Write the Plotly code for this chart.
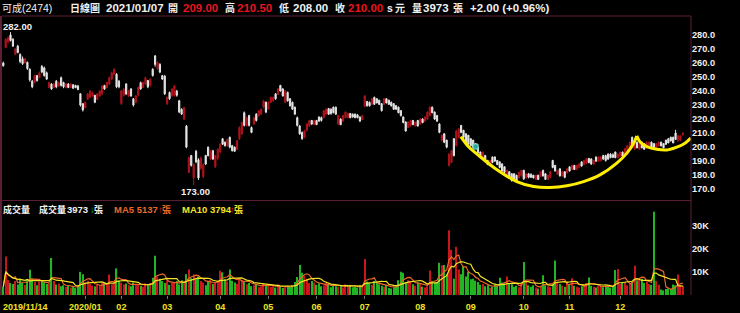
import plotly.graph_objects as go
import pandas as pd

opens = [
    260, 271, 275, 280, 277, 266, 272, 266, 263, 260,
    260.5, 255.5, 247, 246, 251, 249.5, 257.5, 256.5, 253, 242.5,
    245, 242.5, 247, 243.5, 249.5, 246, 242.5, 245, 242.5, 244.5,
    244, 243.5, 238, 231, 228, 234, 235.5, 236.5, 237, 234,
    236.5, 238, 244, 242.5, 245, 248.5, 252, 252, 247, 231,
    237, 245, 236.5, 241.5, 234.5, 232, 237, 246, 242.5, 245,
    247.5, 244, 255.5, 265, 256, 259, 251, 250.5, 231, 239,
    236.5, 237, 240, 233, 227, 220, 215, 182, 194, 178,
    197, 191, 185, 179, 194, 200, 191.5, 197.5, 186, 192,
    196.5, 206, 203.5, 201, 207, 201, 200, 198.5, 206, 209.5,
    224.5, 215.5, 222.5, 214, 216.5, 223.5, 222.5, 223.5, 228.5, 232,
    227, 232, 233, 238, 237.5, 244, 241.5, 232, 239, 234.5,
    232, 228.5, 221, 215, 210.5, 207, 212, 215, 219, 216,
    219, 221.5, 221, 221, 223.5, 227.5, 227, 228.5, 228.5, 216.5,
    220, 218.5, 221, 221, 224, 223.5, 223.5, 223, 221.5, 219.5,
    229, 232.5, 232, 230.5, 235.5, 234.5, 233.5, 231, 230.5, 234.5,
    233.5, 232, 231, 229.5, 228.5, 226, 221.5, 218, 214, 215,
    219, 215, 219, 216.5, 220, 218.5, 220, 222.5, 228.5, 225,
    222.5, 216.5, 205, 209.5, 205, 187, 189, 206, 201, 207,
    215.5, 212, 209.5, 208.5, 206, 205, 202.5, 200, 196.5, 192.5,
    194, 190.5, 186.5, 193, 193, 190.5, 189.5, 188, 186, 179.5,
    182.5, 181, 181, 180, 178, 179.5, 183.5, 178, 181, 180.5,
    180, 177, 180, 179, 183.5, 181, 177, 178.5, 190.5, 187,
    180.5, 184.5, 179.5, 182.5, 181.5, 186, 184, 187, 184, 185.5,
    189.5, 187.5, 188.5, 192, 191.5, 188, 193, 190, 190.5, 194,
    194, 195, 195, 194.5, 196.5, 192.5, 193.5, 196.5, 195, 197,
    199.5, 207, 198.5, 203.5, 198.5, 203.5, 202.5, 199.5, 200.5, 203.5,
    202.5, 199.5, 201, 203.5, 202.5, 205, 206, 207, 207, 210,
    204.5, 205, 209,
]
highs = [
    261, 277.6, 278.8, 282, 277.6, 270.5, 272.9, 266.9, 264.6, 263.4,
    261, 256.2, 247.9, 251.5, 251.5, 253.9, 258.6, 257.4, 253.9, 246.7,
    245.6, 245.6, 247.9, 246.7, 250.3, 246.7, 245.6, 245.6, 245.6, 244.8,
    244.4, 244.4, 238.4, 231.3, 232.5, 238.4, 240.8, 239.6, 237.2, 238.4,
    240.8, 244.4, 244.4, 246.7, 250.3, 253.9, 256.2, 252.7, 247.9, 240.8,
    242, 245.6, 240.8, 242, 234.9, 237.2, 243.2, 246.7, 246.7, 250.3,
    247.9, 249.1, 256.2, 265.7, 261, 259.8, 251.5, 251.5, 236, 239.6,
    242, 244.4, 240.8, 233.7, 227.7, 228.9, 215.8, 193.3, 194.5, 188.5,
    198, 192.1, 193.3, 188.5, 194.5, 200.4, 198, 198, 194.5, 199.2,
    202.8, 206.3, 204, 206.3, 207.5, 201.6, 200.4, 205.2, 214.7, 218.2,
    225.4, 221.8, 223, 214.7, 221.8, 224.2, 226.5, 227.7, 233.7, 232.5,
    232.5, 236, 236, 238.4, 242, 244.4, 242, 240.8, 239.6, 234.9,
    232.5, 228.9, 221.8, 215.8, 211.1, 212.3, 217, 219.4, 219.4, 219.4,
    219.4, 221.8, 221.8, 226.5, 227.7, 227.7, 227.7, 228.9, 228.9, 223,
    220.6, 223, 225.4, 224.2, 224.2, 224, 224, 223.5, 221.8, 223,
    237.2, 233, 232.5, 234.9, 236, 234.9, 233.7, 231.3, 234.9, 234.9,
    233.7, 232.5, 231.3, 230.1, 228.9, 226.5, 221.8, 218.2, 218.2, 219.4,
    219.4, 218.2, 219.4, 220.6, 220.6, 221.8, 225.4, 228.9, 228.9, 225.4,
    223, 217, 208.7, 209.9, 205.2, 195.6, 198, 206.3, 212.3, 213.5,
    215.8, 212.3, 209.9, 208.7, 206.3, 205.2, 202.8, 200.4, 196.8, 196.8,
    194.5, 190.9, 190.9, 193.3, 193.3, 190.9, 189.7, 188.5, 186.1, 183.8,
    182.6, 181.4, 181.4, 180.2, 182.6, 183.8, 183.8, 181.4, 181.4, 181.4,
    180.2, 180.2, 180.2, 182.6, 183.8, 181.4, 180.2, 182.6, 190.9, 187.3,
    183.8, 184.9, 182.6, 182.6, 184.9, 186.1, 187.3, 187.3, 187.3, 188.5,
    189.7, 190.9, 192.1, 192.1, 192.1, 190.9, 193.3, 193.3, 193.3, 194.5,
    194.5, 195.6, 195.6, 195.6, 196.8, 195.6, 196.8, 196.8, 199.2, 201.6,
    204, 207.5, 205.2, 204, 202.8, 204, 202.8, 204, 204, 204,
    202.8, 202.8, 204, 204, 202.8, 205.2, 206.3, 207.5, 207.5, 212.3,
    208.7, 208.5, 210.5,
]
lows = [
    257.4, 270.5, 274.1, 275.3, 271.7, 265.7, 266.9, 259.8, 258.6, 259.8,
    255, 246.7, 242, 245.6, 246.7, 249.1, 252.7, 250.3, 247.9, 242,
    240.8, 242, 242, 243.2, 243.2, 242, 242, 242, 242, 241.5,
    242, 240.8, 228.9, 225.4, 227.7, 233.7, 234.9, 236, 231.3, 233.7,
    236, 237.2, 240.8, 242, 244.4, 247.9, 251.5, 242, 242, 230.1,
    236, 237.2, 236, 236, 228.9, 231.3, 236, 240.8, 242, 244.4,
    242, 243.2, 250.3, 257.4, 255, 252.7, 247.9, 237.2, 230.1, 233.7,
    236, 236, 236, 224.2, 223, 219.4, 199.2, 181.4, 186.1, 173,
    188.5, 176.6, 183.8, 177.8, 187.3, 193.3, 190.9, 190.9, 185, 190.9,
    195.6, 201.6, 200.4, 200.4, 199.2, 196.8, 196.8, 198, 205.2, 208.7,
    214.7, 214.7, 214.7, 209.9, 215.8, 218.2, 221.8, 223, 227.7, 224.2,
    226.5, 231.3, 232.5, 233.7, 237.2, 239.6, 236, 231.3, 232.5, 228.9,
    226.5, 223, 214.7, 208.7, 205.2, 206.3, 211.1, 214.7, 215.8, 215.8,
    215.8, 218.2, 218.2, 220.6, 223, 223, 223, 224.2, 223, 215.8,
    215.8, 218.2, 220.6, 220.6, 220.6, 221, 220.6, 220.6, 218.2, 219.4,
    228.9, 228.9, 228.9, 230.1, 230.1, 231.3, 230.1, 225.4, 230.1, 231.3,
    230.1, 228.9, 226.5, 226.5, 224.2, 221.8, 217, 211.1, 213.5, 214.7,
    215.8, 214.7, 214.7, 215.8, 217, 218.2, 219.4, 221.8, 224.2, 219.4,
    218.2, 209.9, 204, 202.8, 199.2, 186.1, 188.5, 193.3, 200.4, 206.3,
    209.9, 206.3, 202.8, 201.6, 200.4, 199.2, 199.2, 195.6, 192.1, 192.1,
    189.7, 187.3, 186.1, 188.5, 189.7, 187.3, 184.9, 182.6, 181.4, 179,
    177.8, 175.5, 176.6, 175.5, 177.8, 179, 176.6, 177.8, 177.8, 178,
    177.8, 176.6, 176.6, 178.8, 179, 176.6, 176.6, 177.8, 184.9, 182.6,
    180.2, 179, 179, 177.8, 181.4, 182.6, 183.8, 183.8, 183.8, 184.9,
    186.1, 187.3, 188.3, 188.5, 187.3, 187.3, 189.7, 189.7, 189.7, 190.9,
    189.7, 190.9, 192.1, 192.1, 192.1, 192.1, 193.3, 193.3, 194.5, 196.8,
    199.2, 200.4, 198, 199.2, 198, 199.2, 198, 199.2, 200.4, 199.2,
    199.2, 199.2, 200.4, 200.4, 199.2, 201.6, 202.8, 204, 202.8, 205.2,
    204, 204.5, 208,
]
closes = [
    258, 277, 278, 276, 272, 270, 267.5, 261, 259.5, 263,
    256, 248, 243, 251, 247.5, 253, 253.5, 251, 248.5, 246,
    241.5, 245, 243, 246, 244, 243, 245, 242.5, 245, 242,
    242.5, 241, 230, 226.5, 232, 238, 240, 239, 232, 238,
    240, 243.5, 241.5, 246, 249.5, 253, 255.5, 243, 243, 240,
    241.5, 238, 240, 236.5, 230, 236.5, 242.5, 241.5, 246, 249.5,
    243, 248.5, 251, 259, 260.5, 253.5, 248.5, 238, 235.5, 234.5,
    241.5, 243.5, 237, 225, 223.5, 228, 200, 192.5, 187, 187.5,
    189.5, 178, 192, 187.5, 188, 194, 197, 191.5, 194, 198.5,
    202, 202, 201, 205.5, 200, 197.5, 197, 204.5, 214, 217.5,
    215.5, 221, 215.5, 210.5, 221, 219, 226, 227, 233, 225,
    232, 235.5, 235.5, 234.5, 241.5, 240, 236.5, 240, 233, 229.5,
    227, 223.5, 215.5, 209.5, 206, 211.5, 216.5, 219, 216.5, 219,
    216, 218.5, 219, 226, 227, 223.5, 224, 224.5, 223.5, 222.5,
    216, 222.5, 225, 224, 221, 221.5, 221, 221, 218.5, 222.5,
    236.5, 229.5, 229.5, 234.5, 230.5, 231.5, 230.5, 226, 234.5, 231.5,
    230.5, 229.5, 227, 227, 224.5, 222.5, 217.5, 211.5, 218, 219,
    216, 218, 215, 220, 217.5, 221.5, 225, 228.5, 224.5, 220,
    218.5, 210.5, 208.5, 203.5, 200, 195, 197.5, 194, 211.5, 213,
    210.5, 207, 203.5, 202, 201, 200, 199.5, 196, 192.5, 196.5,
    190, 187.5, 190.5, 189, 190, 187.5, 185.5, 183, 182, 183.5,
    178.5, 176, 177, 176, 182, 183.5, 177.5, 181, 178.5, 178.5,
    178, 180, 177, 182.5, 179.5, 177, 180, 182.5, 185.5, 183,
    183.5, 179.5, 182.5, 178.5, 184.5, 183, 187, 184, 187, 188,
    186.5, 190.5, 191.5, 189, 188, 190.5, 190, 193, 193, 191.5,
    190.5, 191.5, 192.5, 192.8, 192.5, 195, 196.5, 193.5, 199, 201,
    203.5, 201, 204.5, 199.5, 202.5, 199.5, 198.5, 203.5, 203.5, 199.5,
    199.5, 202.5, 203.5, 201, 199.5, 202, 203, 204.5, 203, 205.5,
    208, 208, 210,
]
volumes = [
    3500, 16600, 6500, 5200, 4800, 6000, 4500, 7000, 5200, 4300,
    6800, 10900, 7200, 5600, 4200, 5800, 6300, 5500, 4800, 5200,
    16000, 6000, 4500, 5000, 3800, 4200, 3500, 4000, 3200, 3600,
    3000, 4200, 10000, 9000, 5500, 6200, 4800, 4000, 3800, 4400,
    4000, 5200, 5500, 4800, 8800, 4600, 6000, 11500, 6200, 5400,
    4500, 5000, 4200, 3800, 5400, 4200, 4600, 4000, 3600, 5000,
    4400, 5200, 7500, 16900, 8000, 7000, 6000, 5200, 6200, 4400,
    5200, 5600, 6000, 4500, 6400, 5200, 9000, 11000, 7200, 8800,
    6800, 8000, 6000, 5400, 4200, 5800, 6500, 4800, 5200, 6000,
    10500, 9800, 6800, 5800, 11000, 6200, 5400, 4800, 7200, 6500,
    5800, 4600, 5200, 3800, 4200, 4800, 3400, 3600, 5000, 4400,
    4000, 3500, 3800, 3200, 4600, 3800, 3000, 3400, 4000, 3600,
    4200, 5600, 7800, 13000, 9600, 8400, 7000, 5200, 6000, 5400,
    4400, 5000, 3800, 4200, 5200, 4400, 3400, 4000, 3800, 3600,
    4200, 3200, 4600, 3800, 4000, 3400, 3600, 3200, 4200, 3800,
    15600, 5800, 5200, 4400, 6000, 5200, 4600, 4000, 3600, 4400,
    3000, 2800, 3400, 3800, 6400, 10000, 9600, 5600, 6400, 5800,
    4600, 4000, 5400, 4800, 3600, 3200, 3800, 10600, 6200, 5400,
    5600, 13900, 12800, 13000, 9000, 28000, 19500, 7000, 20800, 11000,
    9000, 12500, 8000, 10000, 6800, 7000, 6200, 5600, 4400, 4800,
    3800, 4200, 3000, 3600, 4400, 3800, 7500, 5400, 5000, 8000,
    5200, 4600, 3600, 4000, 3400, 4800, 14300, 5600, 4200, 3600,
    4200, 3200, 2800, 3600, 8500, 4200, 3800, 3400, 4600, 14900,
    5600, 4800, 4000, 3600, 5800, 4400, 7200, 4000, 3600, 3200,
    3800, 4400, 5200, 7600, 4000, 3600, 3200, 4200, 3800, 3400,
    4000, 3600, 3200, 4000, 10800, 11200, 4800, 5200, 5600, 4200,
    4800, 5600, 12600, 6400, 6800, 7000, 5200, 5600, 4800, 4400,
    36000, 6200, 4400, 2400, 2000, 2600, 2800, 2455, 4512, 4200,
    8800, 4200, 3973,
]

month_ticks = [34, 49, 68, 90, 110, 130, 150, 173, 194, 216, 235, 256]
month_labels = ["2020/01", "02", "03", "04", "05", "06", "07", "08", "09", "10", "11", "12"]
price_ticks = [170, 180, 190, 200, 210, 220, 230, 240, 250, 260, 270, 280]
vol_ticks = [10000, 20000, 30000]
vol_labels = ["10K", "20K", "30K"]

cup_left_x = [189.9, 193, 197, 204, 213.1, 220.1, 226.8, 233.9, 240.8, 247.6, 254.6, 258.8, 261.6, 262.9]
cup_left_y = [207.5, 200.4, 194.5, 185.0, 175.4, 171.9, 171.2, 172.4, 175.4, 180.2, 188.6, 195.7, 202.8, 208.0]
cup_right_x = [262.9, 264.2, 267.1, 271.2, 275.4, 279.5, 282.9, 285.3]
cup_right_y = [208.0, 203.9, 200.4, 198.5, 198.0, 200.0, 202.8, 206.4]

marker_x = [196]
marker_y = [200.4]

n = len(closes)
idx = list(range(n))

FONT = "Liberation Sans, Arial, Noto Sans CJK TC, sans-serif"
CJK = "Noto Sans CJK TC, Liberation Sans, sans-serif"
RED = "#e8141c"
CANDLE_RED = "#b0141c"
WHITE = "#f0f0f0"
GREEN = "#22b422"
ORANGE = "#e8682a"
YELLOW = "#f2e424"

vol_colors = [("#c8161c" if c >= o else GREEN) for o, c in zip(opens, closes)]
vs = pd.Series(volumes)
ma5 = vs.rolling(5, min_periods=1).mean()
ma10 = vs.rolling(10, min_periods=1).mean()

fig = go.Figure()
fig.add_trace(go.Candlestick(
    x=idx, open=opens, high=highs, low=lows, close=closes,
    increasing=dict(line=dict(color=CANDLE_RED, width=1), fillcolor=CANDLE_RED),
    decreasing=dict(line=dict(color="#e6e6e6", width=1), fillcolor="#e6e6e6"),
    whiskerwidth=0, xaxis="x", yaxis="y", hoverinfo="skip", showlegend=False))

for cx, cy in [(cup_left_x, cup_left_y), (cup_right_x, cup_right_y)]:
    fig.add_trace(go.Scatter(x=cx, y=cy, mode="lines",
                             line=dict(color="#ffee00", width=3, shape="spline", smoothing=0.9),
                             xaxis="x", yaxis="y", hoverinfo="skip", showlegend=False))

fig.add_trace(go.Scatter(x=marker_x, y=marker_y, mode="markers",
                         marker=dict(symbol="square", size=5, color="#2aa894",
                                     line=dict(color="#7fe0d0", width=1)),
                         xaxis="x", yaxis="y", hoverinfo="skip", showlegend=False))

fig.add_trace(go.Bar(x=idx, y=volumes, marker=dict(color=vol_colors, line=dict(width=0)),
                     width=0.5, xaxis="x2", yaxis="y2", hoverinfo="skip", showlegend=False))
fig.add_trace(go.Scatter(x=idx, y=ma5, mode="lines", line=dict(color=ORANGE, width=1.2),
                         xaxis="x2", yaxis="y2", hoverinfo="skip", showlegend=False))
fig.add_trace(go.Scatter(x=idx, y=ma10, mode="lines", line=dict(color=YELLOW, width=1.2),
                         xaxis="x2", yaxis="y2", hoverinfo="skip", showlegend=False))

xr = [-0.54, 285.4]
tickfont = dict(family=FONT, size=9.2, color="#f0f0f0", weight="bold")

fig.update_layout(
    width=740, height=313,
    margin=dict(l=2, r=49, t=16, b=18),
    paper_bgcolor="black", plot_bgcolor="black",
    xaxis=dict(domain=[0, 1], range=xr, anchor="y", showticklabels=False, showgrid=False,
               zeroline=False, showline=False, rangeslider=dict(visible=False)),
    yaxis=dict(domain=[0.341, 1], range=[162.4, 293.5], side="right", anchor="x",
               tickvals=price_ticks, ticktext=[f"{v:.1f}" for v in price_ticks],
               tickfont=tickfont, showgrid=False, zeroline=False, showline=False, ticks=""),
    xaxis2=dict(domain=[0, 1], range=xr, anchor="y2", showgrid=False, zeroline=False,
                showline=False, tickvals=month_ticks, ticktext=month_labels,
                tickfont=dict(family=FONT, size=9, color=YELLOW, weight="bold"),
                ticks="outside", ticklen=3, tickcolor="#777777"),
    yaxis2=dict(domain=[0, 0.337], range=[0, 40600], side="right", anchor="x2",
                tickvals=vol_ticks, ticktext=vol_labels, tickfont=tickfont,
                showgrid=False, zeroline=False, showline=False, ticks=""),
)

BORDER = "#5e2034"
shapes = [
    dict(type="line", xref="paper", yref="paper", x0=0, x1=1, y0=1, y1=1, line=dict(color=BORDER, width=1)),
    dict(type="line", xref="paper", yref="paper", x0=1, x1=1, y0=0, y1=1, line=dict(color=BORDER, width=1)),
    dict(type="line", xref="paper", yref="paper", x0=-0.0015, x1=-0.0015, y0=0, y1=1, line=dict(color=BORDER, width=2)),
    dict(type="line", xref="paper", yref="paper", x0=0, x1=1, y0=0.3385, y1=0.3385, line=dict(color=BORDER, width=1)),
]
fig.update_layout(shapes=shapes)


def px_x(px):
    return (px - 2) / 689.0


def px_y(py):
    return (295 - py) / 279.0


anns = []


def txt(xpx, ypx, text, color=WHITE, size=11.5, bold=True, family=FONT):
    anns.append(dict(xref="paper", yref="paper", x=px_x(xpx), y=px_y(ypx), xanchor="left",
                     yanchor="middle", showarrow=False, text=text, borderpad=0,
                     font=dict(family=family, size=size, color=color, weight="bold" if bold else "normal")))


# header
txt(1, 8, "可成", size=10, family=CJK, bold=False)
txt(21, 8, "(2474)", bold=False, size=10.5)
txt(69, 8, "日線圖", size=10, family=CJK)
txt(105, 8, "2021/01/07")
txt(167, 8, "開", size=10, family=CJK)
txt(182, 8, "209.00", RED)
txt(224, 8, "高", size=10, family=CJK)
txt(236, 8, "210.50", RED)
txt(278, 8, "低", size=10, family=CJK)
txt(292, 8, "208.00")
txt(334, 8, "收", size=10, family=CJK)
txt(347, 8, "210.00", RED)
txt(386, 8, "s", size=10.5)
txt(394, 8, "元", size=10, family=CJK)
txt(411, 8, "量", size=10, family=CJK)
txt(422, 8, "3973")
txt(452, 8, "張", size=10, family=CJK)
txt(469, 8, "+2.00 (+0.96%)")

# extremes
txt(2, 26, "282.00", size=9.5)
txt(180, 191, "173.00", size=9.5)

# volume legend
txt(2, 209, "成交量", size=9, family=CJK)
txt(38, 209, "成交量", size=9, family=CJK)
txt(66, 209, "3973", size=9.5)
txt(89, 209, "↓", GREEN, size=9.5)
txt(93, 209, "張", size=9, family=CJK)
txt(113, 209, "MA5 5137", ORANGE, size=9.5)
txt(157, 209, "↑", RED, size=9.5)
txt(161, 209, "張", ORANGE, size=9, family=CJK)
txt(181, 209, "MA10 3794", YELLOW, size=9.5)
txt(229, 209, "↑", RED, size=9.5)
txt(233, 209, "張", YELLOW, size=9, family=CJK)

# first date label
txt(2, 307, "2019/11/14", YELLOW, size=9)

fig.update_layout(annotations=anns)

fig.write_html("out.html")
